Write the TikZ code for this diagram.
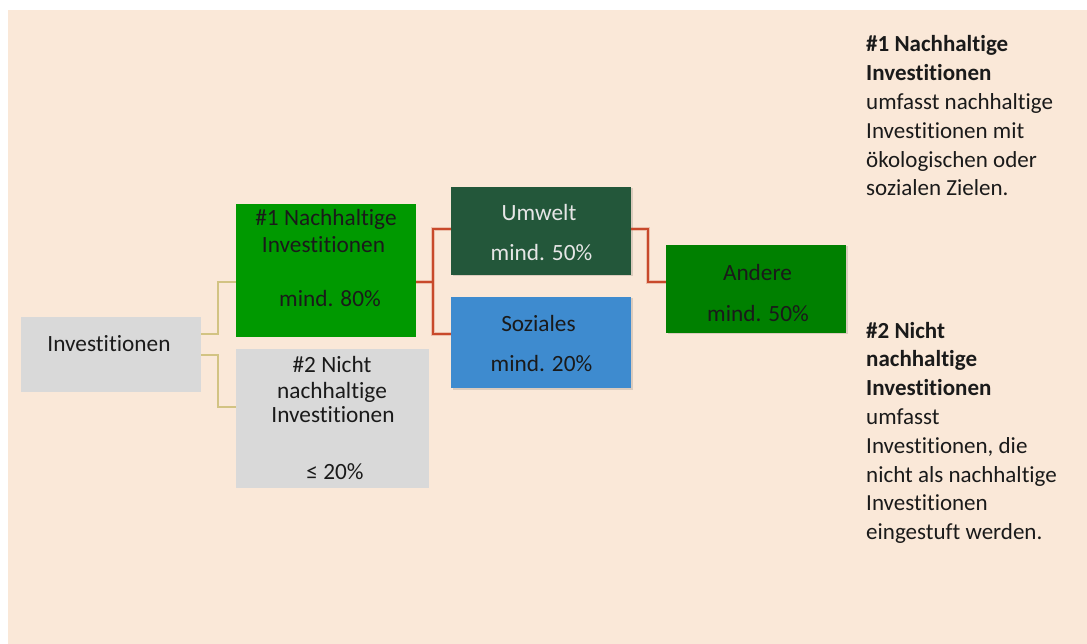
\documentclass[tikz,border=0pt]{standalone}
\usepackage{fontspec}
\setmainfont{Carlito}[Ligatures={NoCommon}]
\usetikzlibrary{shadows}
\definecolor{bgpeach}{HTML}{FAE8D8}
\definecolor{boxgray}{HTML}{D9D9D9}
\definecolor{greenA}{HTML}{009900}
\definecolor{greenB}{HTML}{23573A}
\definecolor{greenC}{HTML}{008000}
\definecolor{blueS}{HTML}{3E8BCF}
\definecolor{olive}{HTML}{D2C383}
\definecolor{redline}{HTML}{C8492B}
\definecolor{txtdark}{HTML}{1A1A1A}
\definecolor{txtlight}{HTML}{E6E6E6}
\tikzset{
  box/.style={draw=none, rectangle, inner sep=0pt},
  shbox/.style={box, drop shadow={shadow xshift=1.5pt, shadow yshift=-1.5pt, opacity=0.12, fill=black}},
  txt/.style={anchor=base, inner sep=0pt, text=txtdark, font=\fontsize{23.3}{28.8}\selectfont},
  side/.style={anchor=base west, inner sep=0pt, text width=215pt, align=flush left, text=txtdark, font=\fontsize{23}{28.8}\selectfont},
  olivecon/.style={draw=olive, line width=1.5pt},
  redcon/.style={draw=redline, line width=1.8pt},
  redhalo/.style={draw=redline, line width=4pt, opacity=0.25}
}
\begin{document}
\begin{tikzpicture}[x=1pt, y=-1pt]
\useasboundingbox (0,0) rectangle (1087,644);
\fill[white] (0,0) rectangle (1087,644);
\fill[bgpeach] (8,10) rectangle (1087,644);

% boxes
\node[box, fill=boxgray, minimum width=180pt, minimum height=75pt] (inv) at (111,354.5) {};
\node[box, fill=greenA, minimum width=180pt, minimum height=133pt] (n1) at (326,270.5) {};
\node[box, fill=boxgray, minimum width=193pt, minimum height=139pt] (n2) at (332.5,418.5) {};
\node[shbox, fill=greenB, minimum width=180pt, minimum height=88pt] (umw) at (541,231) {};
\node[shbox, fill=blueS, minimum width=180pt, minimum height=91pt] (soz) at (541,342.5) {};
\node[shbox, fill=greenC, minimum width=180pt, minimum height=88pt] (and) at (756,289) {};

% connectors
\draw[olivecon] (inv.east |- 0,334) -- (218,334) -- (218,282) -- (n1.west |- 0,282);
\draw[olivecon] (inv.east |- 0,355) -- (218,355) -- (218,407) -- (n2.west |- 0,407);

\coordinate (j1) at (433,282);
\coordinate (j2) at (648,229);
\foreach \s in {redhalo, redcon}{
  \draw[\s] (n1.east |- 0,282) -- (j1);
  \draw[\s] (umw.west |- 0,229) -- (j1 |- 0,229) -- (j1 |- 0,334) -- (soz.west |- 0,334);
  \draw[\s] (umw.east |- 0,229) -- (j2) -- (j2 |- 0,282) -- (and.west |- 0,282);
}

% box texts
\node[txt] (inv-t) at (109,352) {Investitionen};
\node[txt] (n1-t1) at (326,226) {\#1 Nachhaltige};
\node[txt] (n1-t2) at (323.5,253) {Investitionen};
\node[txt] (n1-t3) at (330,307) {mind. 80\%};
\node[txt] (n2-t1) at (332,372) {\#2 Nicht};
\node[txt] (n2-t2) at (332,398) {nachhaltige};
\node[txt] (n2-t3) at (333,422) {Investitionen};
\node[txt] (n2-t4) at (335,479) {≤ 20\%};
\node[txt, text=txtlight] (umw-t1) at (539,221) {Umwelt};
\node[txt, text=txtlight] (umw-t2) at (541.5,261) {mind. 50\%};
\node[txt] (soz-t1) at (538.5,331) {Soziales};
\node[txt] (soz-t2) at (541.5,371) {mind. 20\%};
\node[txt] (and-t1) at (757.5,281) {Andere};
\node[txt] (and-t2) at (758,322) {mind. 50\%};

% side texts
\node[side] (s1) at (866,52) {\textbf{\#1 Nachhaltige}\\\textbf{Investitionen}\\umfasst nachhaltige\\Investitionen mit\\ökologischen oder\\sozialen Zielen.};
\node[side] (s2) at (866,338) {\textbf{\#2 Nicht}\\\textbf{nachhaltige}\\\textbf{Investitionen}\\umfasst\\Investitionen, die\\nicht als nachhaltige\\Investitionen\\eingestuft werden.};
\end{tikzpicture}
\end{document}
